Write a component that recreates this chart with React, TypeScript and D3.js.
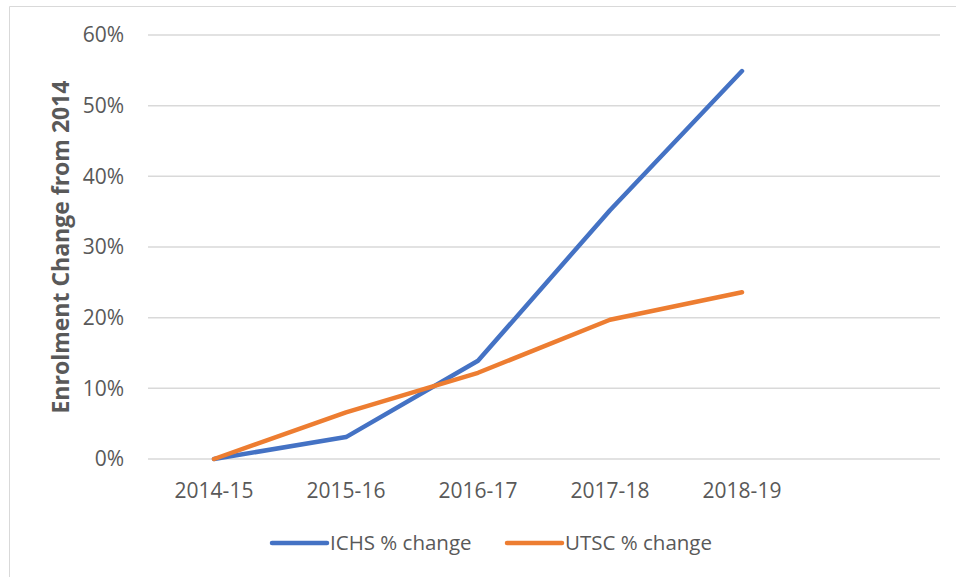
import React from "react";
import * as d3 from "d3";

const categories = ["2014-15", "2015-16", "2016-17", "2017-18", "2018-19", ""];
const ichs = [0, 0.031, 0.139, 0.352, 0.549];
const utsc = [0, 0.066, 0.122, 0.197, 0.236];
const yTicks = [0, 0.1, 0.2, 0.3, 0.4, 0.5, 0.6];
const seriesNames = ["ICHS % change", "UTSC % change"];
const colors = ["#4472C4", "#ED7D31"];

const W = 956;
const H = 577;
const FONT = "'Open Sans', sans-serif";
const TEXT = "#595959";

export default function App() {
  const x = d3.scaleBand<string>().domain(categories.map((c, i) => String(i))).range([148, 940]);
  const y = d3.scaleLinear().domain([0, 0.6]).range([459, 35]);
  const cx = (i: number) => (x(String(i)) as number) + x.bandwidth() / 2;
  const line = d3
    .line<number>()
    .x((_, i) => cx(i))
    .y((d) => y(d));
  const fmt = d3.format(".0%");
  const series = [ichs, utsc];
  const legendX = [272, 507];

  return (
    <svg
      width={W}
      height={H}
      style={{ position: "absolute", left: 0, top: 0, background: "#fff" }}
      fontFamily={FONT}
    >
      <rect x={0} y={0} width={W} height={H} fill="#fff" />
      <line x1={9.5} y1={6.5} x2={W} y2={6.5} stroke="#d9d9d9" strokeWidth={1} />
      <line x1={9.5} y1={6.5} x2={9.5} y2={H} stroke="#d9d9d9" strokeWidth={1} />
      {yTicks.map((t) => (
        <g key={t}>
          <line x1={148} x2={940} y1={y(t)} y2={y(t)} stroke="#d9d9d9" strokeWidth={1.5} />
          <text x={124} y={y(t)} dy="0.35em" textAnchor="end" fontSize={21} fill={TEXT}>
            {fmt(t)}
          </text>
        </g>
      ))}
      {categories.map((c, i) => (
        <text key={i} x={cx(i)} y={491} dy="0.35em" textAnchor="middle" fontSize={21} fill={TEXT}>
          {c}
        </text>
      ))}
      <text
        transform={`translate(61,${(y(0) + y(0.6)) / 2}) rotate(-90)`}
        textAnchor="middle"
        dy="0.35em"
        fontSize={23}
        fontWeight="bold"
        fill={TEXT}
      >
        Enrolment Change from 2014
      </text>
      {series.map((s, k) => (
        <path
          key={k}
          d={line(s) || ""}
          fill="none"
          stroke={colors[k]}
          strokeWidth={4.5}
          strokeLinecap="round"
          strokeLinejoin="round"
        />
      ))}
      {seriesNames.map((n, k) => (
        <g key={n}>
          <line
            x1={legendX[k]}
            x2={legendX[k] + 55}
            y1={543}
            y2={543}
            stroke={colors[k]}
            strokeWidth={4.5}
            strokeLinecap="round"
          />
          <text x={legendX[k] + 58} y={543} dy="0.35em" fontSize={20.5} fill={TEXT}>
            {n}
          </text>
        </g>
      ))}
    </svg>
  );
}
